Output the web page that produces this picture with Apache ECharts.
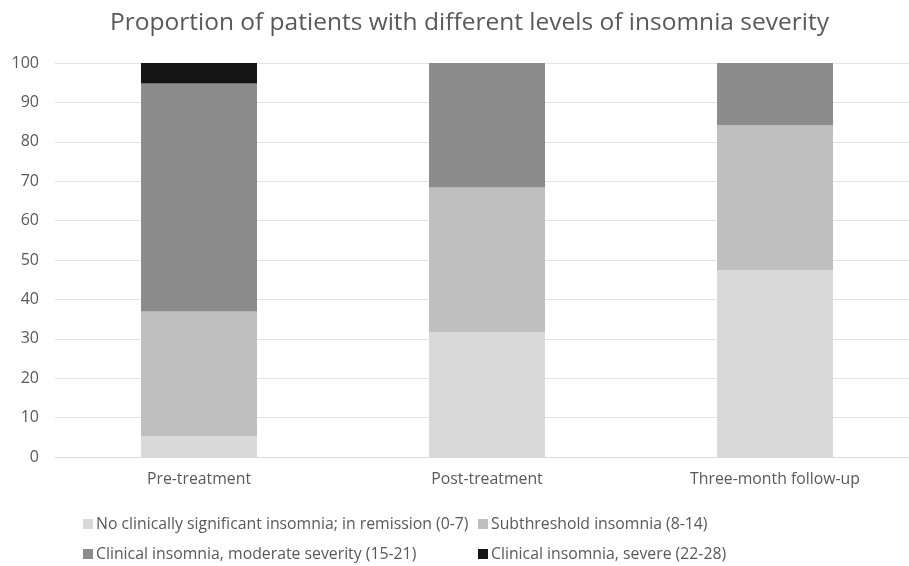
<!DOCTYPE html>
<html>
<head>
<meta charset="utf-8">
<script src="https://cdn.jsdelivr.net/npm/echarts@6/dist/echarts.min.js"></script>
<style>
  html, body { margin: 0; padding: 0; background: #fff; }
  #chart { width: 909px; height: 566px; }
</style>
</head>
<body>
<div id="chart"></div>
<script>
// Time points on the x axis
var categories = ['Pre-treatment', 'Post-treatment', 'Three-month follow-up'];

// Percentage of patients in each severity band (stacked to 100)
var remission = [5.3, 31.6, 47.4];
var subthreshold = [31.6, 36.8, 36.8];
var moderate = [57.9, 31.6, 15.8];
var severe = [5.3, 0, 0];

var seriesNames = [
  'No clinically significant insomnia; in remission (0-7)',
  'Subthreshold insomnia (8-14)',
  'Clinical insomnia, moderate severity (15-21)',
  'Clinical insomnia, severe (22-28)'
];
var seriesData = [remission, subthreshold, moderate, severe];
var seriesColors = ['#D9D9D9', '#BFBFBF', '#8C8C8C', '#141414'];

var yTicks = [0, 10, 20, 30, 40, 50, 60, 70, 80, 90, 100];

var FONT = 'Open Sans';
var TEXT = '#595959';

var chart = echarts.init(document.getElementById('chart'), null, { renderer: 'canvas' });

var legendPos = [
  { left: 78, top: 511 },
  { left: 473, top: 511 },
  { left: 78, top: 541 },
  { left: 473, top: 541 }
];

var option = {
  animation: false,
  backgroundColor: '#ffffff',
  title: {
    text: 'Proportion of patients with different levels of insomnia severity',
    left: 105,
    top: 6,
    textStyle: { fontFamily: FONT, fontSize: 24.5, fontWeight: 'normal', color: TEXT }
  },
  legend: seriesNames.map(function (name, i) {
    return {
      data: [name],
      left: legendPos[i].left,
      top: legendPos[i].top,
      itemWidth: 10,
      itemHeight: 10,
      itemGap: 0,
      icon: 'rect',
      selectedMode: false,
      textStyle: { fontFamily: FONT, fontSize: 15.8, color: TEXT, padding: [0, 0, 0, -2] }
    };
  }),
  grid: { left: 55, top: 63, width: 864, height: 394, containLabel: false, outerBoundsMode: 'none' },
  xAxis: {
    type: 'category',
    data: categories,
    axisLine: { show: true, lineStyle: { color: '#D9D9D9', width: 1 } },
    axisTick: { show: false },
    axisLabel: { fontFamily: FONT, fontSize: 15.8, color: TEXT, margin: 14 }
  },
  yAxis: {
    type: 'value',
    min: yTicks[0],
    max: yTicks[yTicks.length - 1],
    interval: 10,
    axisLine: { show: false },
    axisTick: { show: false },
    axisLabel: { fontFamily: FONT, fontSize: 16, color: TEXT, margin: 16 },
    splitLine: { lineStyle: { color: '#E3E3E3', width: 1 } }
  },
  series: seriesNames.map(function (name, i) {
    return {
      name: name,
      type: 'bar',
      stack: 'total',
      data: seriesData[i],
      barWidth: 116,
      itemStyle: { color: seriesColors[i] },
      emphasis: { disabled: true }
    };
  })
};

chart.setOption(option);
</script>
</body>
</html>
